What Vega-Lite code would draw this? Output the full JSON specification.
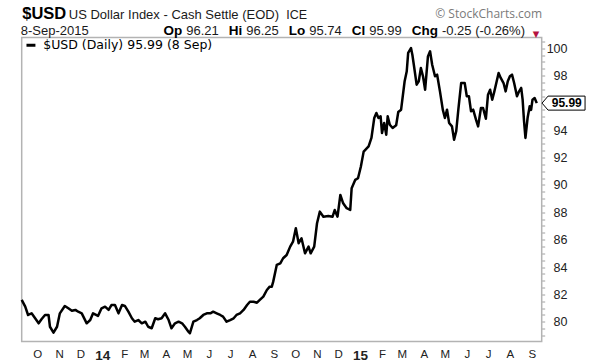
{
  "$schema": "https://vega.github.io/schema/vega-lite/v6.json",
  "width": 520,
  "height": 304,
  "autosize": "none",
  "padding": {"left": 21.7, "top": 37.5, "right": 48.3, "bottom": 22.5},
  "background": "white",
  "config": {
    "view": {"stroke": "#b3b3b3", "strokeWidth": 1.5},
    "axis": {"labelFont": "Liberation Sans", "titleFont": "Liberation Sans", "grid": false, "domain": false, "titleColor": "#1a1a1a", "titleFontWeight": "normal", "titleAngle": 0, "titleAlign": "left", "titleBaseline": "alphabetic"}
  },
  "datasets": {
    "usd": [
      {"d":"2013-09-09","v":81.59},{"d":"2013-09-14","v":81.10},{"d":"2013-09-18","v":80.49},{"d":"2013-09-23","v":80.61},{"d":"2013-09-28","v":80.25},
      {"d":"2013-10-03","v":79.88},{"d":"2013-10-07","v":80.18},{"d":"2013-10-12","v":80.49},{"d":"2013-10-17","v":80.49},{"d":"2013-10-19","v":79.63},{"d":"2013-10-24","v":79.20},{"d":"2013-10-29","v":79.63},
      {"d":"2013-11-02","v":80.61},{"d":"2013-11-09","v":81.15},{"d":"2013-11-14","v":80.98},{"d":"2013-11-19","v":80.80},{"d":"2013-11-24","v":80.86},{"d":"2013-11-28","v":80.73},
      {"d":"2013-12-03","v":80.61},{"d":"2013-12-10","v":79.88},{"d":"2013-12-15","v":80.12},{"d":"2013-12-19","v":80.61},{"d":"2013-12-26","v":80.42},{"d":"2013-12-31","v":80.98},
      {"d":"2014-01-05","v":81.10},{"d":"2014-01-10","v":80.86},{"d":"2014-01-14","v":81.22},{"d":"2014-01-19","v":81.22},{"d":"2014-01-24","v":80.61},{"d":"2014-01-29","v":81.22},
      {"d":"2014-02-02","v":81.15},{"d":"2014-02-07","v":80.73},{"d":"2014-02-12","v":80.25},{"d":"2014-02-16","v":80.00},{"d":"2014-02-21","v":80.12},{"d":"2014-02-26","v":79.88},
      {"d":"2014-03-03","v":80.00},{"d":"2014-03-07","v":79.63},{"d":"2014-03-12","v":79.52},{"d":"2014-03-17","v":80.25},{"d":"2014-03-21","v":80.18},{"d":"2014-03-26","v":80.25},{"d":"2014-03-31","v":80.61},
      {"d":"2014-04-05","v":80.12},{"d":"2014-04-09","v":79.52},{"d":"2014-04-14","v":79.88},{"d":"2014-04-19","v":80.00},{"d":"2014-04-24","v":79.88},{"d":"2014-04-28","v":79.63},
      {"d":"2014-05-03","v":79.27},{"d":"2014-05-05","v":79.15},{"d":"2014-05-10","v":80.00},{"d":"2014-05-15","v":80.12},{"d":"2014-05-19","v":80.25},{"d":"2014-05-24","v":80.49},{"d":"2014-05-29","v":80.61},
      {"d":"2014-06-03","v":80.61},{"d":"2014-06-07","v":80.73},{"d":"2014-06-12","v":80.61},{"d":"2014-06-17","v":80.49},{"d":"2014-06-21","v":80.37},{"d":"2014-06-26","v":80.00},
      {"d":"2014-07-01","v":80.12},{"d":"2014-07-06","v":80.25},{"d":"2014-07-10","v":80.49},{"d":"2014-07-15","v":80.61},{"d":"2014-07-20","v":80.86},{"d":"2014-07-25","v":81.22},{"d":"2014-07-29","v":81.46},
      {"d":"2014-08-03","v":81.46},{"d":"2014-08-08","v":81.39},{"d":"2014-08-12","v":81.59},{"d":"2014-08-17","v":81.83},{"d":"2014-08-22","v":82.32},{"d":"2014-08-26","v":82.56},{"d":"2014-08-29","v":82.56},{"d":"2014-08-31","v":82.93},
      {"d":"2014-09-05","v":84.15},{"d":"2014-09-10","v":84.27},{"d":"2014-09-14","v":84.64},{"d":"2014-09-19","v":84.88},{"d":"2014-09-24","v":85.49},{"d":"2014-09-28","v":85.85},
      {"d":"2014-10-02","v":86.83},{"d":"2014-10-06","v":85.74},{"d":"2014-10-10","v":86.10},{"d":"2014-10-15","v":85.00},{"d":"2014-10-20","v":85.49},{"d":"2014-10-23","v":85.00},{"d":"2014-10-28","v":85.49},
      {"d":"2014-11-01","v":87.20},{"d":"2014-11-05","v":88.05},{"d":"2014-11-10","v":87.68},{"d":"2014-11-17","v":87.73},{"d":"2014-11-23","v":87.68},{"d":"2014-11-26","v":88.17},{"d":"2014-11-30","v":87.68},
      {"d":"2014-12-04","v":89.27},{"d":"2014-12-08","v":88.66},{"d":"2014-12-13","v":88.30},{"d":"2014-12-18","v":88.17},{"d":"2014-12-20","v":89.76},{"d":"2014-12-25","v":90.37},{"d":"2014-12-29","v":90.49},
      {"d":"2015-01-02","v":91.34},{"d":"2015-01-06","v":92.44},{"d":"2015-01-13","v":92.83},{"d":"2015-01-17","v":93.44},{"d":"2015-01-21","v":94.90},{"d":"2015-01-24","v":95.27},{"d":"2015-01-27","v":94.90},{"d":"2015-01-30","v":95.03},
      {"d":"2015-02-01","v":93.80},{"d":"2015-02-04","v":94.54},{"d":"2015-02-07","v":93.68},{"d":"2015-02-09","v":95.03},{"d":"2015-02-12","v":94.41},{"d":"2015-02-16","v":94.17},{"d":"2015-02-21","v":94.37},{"d":"2015-02-24","v":95.34},{"d":"2015-02-28","v":95.51},
      {"d":"2015-03-05","v":97.59},{"d":"2015-03-08","v":98.32},{"d":"2015-03-10","v":99.66},{"d":"2015-03-14","v":100.02},{"d":"2015-03-16","v":99.51},{"d":"2015-03-18","v":98.80},{"d":"2015-03-22","v":97.34},{"d":"2015-03-25","v":97.59},{"d":"2015-03-28","v":98.56},{"d":"2015-03-31","v":97.95},
      {"d":"2015-04-03","v":96.97},{"d":"2015-04-07","v":99.41},{"d":"2015-04-10","v":99.78},{"d":"2015-04-13","v":98.80},{"d":"2015-04-17","v":97.95},{"d":"2015-04-20","v":98.07},{"d":"2015-04-24","v":96.85},{"d":"2015-04-28","v":95.51},
      {"d":"2015-05-01","v":94.90},{"d":"2015-05-04","v":95.51},{"d":"2015-05-07","v":94.54},{"d":"2015-05-11","v":94.29},{"d":"2015-05-14","v":93.31},{"d":"2015-05-17","v":93.93},{"d":"2015-05-20","v":95.51},{"d":"2015-05-24","v":97.46},{"d":"2015-05-29","v":97.46},
      {"d":"2015-06-01","v":96.49},{"d":"2015-06-04","v":96.49},{"d":"2015-06-07","v":95.39},{"d":"2015-06-10","v":95.51},{"d":"2015-06-14","v":94.78},{"d":"2015-06-17","v":94.29},{"d":"2015-06-21","v":95.63},{"d":"2015-06-24","v":95.63},{"d":"2015-06-28","v":94.85},
      {"d":"2015-07-01","v":96.61},{"d":"2015-07-04","v":96.97},{"d":"2015-07-07","v":96.24},{"d":"2015-07-10","v":96.85},{"d":"2015-07-16","v":98.19},{"d":"2015-07-19","v":97.83},{"d":"2015-07-23","v":97.46},{"d":"2015-07-26","v":96.85},{"d":"2015-07-29","v":97.59},
      {"d":"2015-08-01","v":97.95},{"d":"2015-08-04","v":98.07},{"d":"2015-08-07","v":97.46},{"d":"2015-08-11","v":96.49},{"d":"2015-08-14","v":96.85},{"d":"2015-08-17","v":97.10},{"d":"2015-08-19","v":96.24},{"d":"2015-08-21","v":94.66},{"d":"2015-08-23","v":93.44},{"d":"2015-08-26","v":94.90},{"d":"2015-08-29","v":95.76},{"d":"2015-08-31","v":95.49},
      {"d":"2015-09-02","v":96.24},{"d":"2015-09-05","v":96.36},{"d":"2015-09-08","v":95.99}
    ],
    "last": [{"d":"2015-09-08","v":95.99}]
  },
  "data": {"name": "usd"},
  "layer": [
    {
      "mark": {"type": "line", "strokeWidth": 2.5, "strokeJoin": "round"},
      "encoding": {
        "x": {"field": "d", "type": "temporal",
          "scale": {"type": "utc", "domain": [{"year": 2013, "month": 9, "date": 9, "utc": true}, {"year": 2015, "month": 9, "date": 15, "utc": true}]},
          "axis": {"orient": "bottom", "tickCount": {"interval": "month", "step": 1}, "ticks": false, "domain": false, "grid": false, "labelPadding": 7, "labelColor": "#222222", "labelOverlap": false, "labelFlush": false, "labelBound": false,
            "labelExpr": "utcmonth(datum.value) == 0 ? utcFormat(datum.value, '%y') : substring(utcFormat(datum.value, '%b'), 0, 1)",
            "labelFontWeight": {"condition": {"test": "utcmonth(datum.value) == 0", "value": "bold"}, "value": "normal"},
            "labelFontSize": {"condition": {"test": "utcmonth(datum.value) == 0", "value": 13.5}, "value": 11.5},
            "title": "▼", "titleX": 510.5, "titleY": -305, "titleColor": "#b5123f", "titleFont": "DejaVu Sans", "titleFontSize": 8.5, "titleAlign": "left", "titleAngle": 0, "titleBaseline": "alphabetic"}},
        "y": {"field": "v", "type": "quantitative",
          "scale": {"domain": [78.55, 100.79], "zero": false, "nice": false},
          "axis": {"orient": "right", "values": [79,79.5,80,80.5,81,81.5,82,82.5,83,83.5,84,84.5,85,85.5,86,86.5,87,87.5,88,88.5,89,89.5,90,90.5,91,91.5,92,92.5,93,93.5,94,94.5,95,95.5,96,96.5,97,97.5,98,98.5,99,99.5,100,100.5],
            "labelExpr": "datum.value % 2 == 0 && datum.value != 96 ? format(datum.value, 'd') : ''", "labelOverlap": false, "labelAlign": "right", "labelPadding": 22.3, "labelFontSize": 12.5, "labelColor": "#222222",
            "tickSize": 3, "tickColor": "#a0a0a0", "tickWidth": 1, "domain": false, "grid": false,
            "title": "© StockCharts.com", "titleX": 0, "titleY": -20, "titleAlign": "right", "titleAngle": 0, "titleBaseline": "alphabetic", "titleFont": "Open Sans", "titleFontSize": 12, "titleColor": "#7a7a7a"}},
        "color": {"datum": "$USD (Daily) 95.99 (8 Sep)", "scale": {"range": ["#000000"]},
          "legend": {"orient": "none", "legendX": 3, "legendY": 1.5, "title": null, "symbolType": "stroke", "symbolStrokeWidth": 3, "symbolSize": 80, "labelFont": "DejaVu Sans", "labelFontSize": 12.5, "labelLimit": 400, "labelColor": "#000000", "labelOffset": 6, "padding": 0}}
      }
    },
    {
      "data": {"name": "last"},
      "mark": {"type": "point", "opacity": 0},
      "encoding": {
        "x": {"field": "d", "type": "temporal", "scale": {"type": "utc", "domain": [{"year": 2013, "month": 9, "date": 9, "utc": true}, {"year": 2015, "month": 9, "date": 15, "utc": true}]},
          "axis": {"orient": "top", "labels": false, "ticks": false, "domain": false, "grid": false, "title": "$USD", "titleX": 0, "titleY": -19, "titleFontSize": 16.5, "titleFontWeight": "bold", "titleColor": "#000000", "titleAlign": "left", "titleAngle": 0, "titleBaseline": "alphabetic"}},
        "y": {"field": "v", "type": "quantitative", "scale": {"domain": [78.55, 100.79], "zero": false, "nice": false},
          "axis": {"orient": "left", "labels": false, "ticks": false, "domain": false, "grid": false, "title": "US Dollar Index - Cash Settle (EOD)", "titleX": 46.6, "titleY": -19, "titleFontSize": 13, "titleAlign": "left", "titleAngle": 0, "titleBaseline": "alphabetic"}}
      }
    },
    {
      "data": {"name": "last"},
      "mark": {"type": "point", "opacity": 0},
      "encoding": {
        "x": {"field": "d", "type": "temporal", "scale": {"type": "utc", "domain": [{"year": 2013, "month": 9, "date": 9, "utc": true}, {"year": 2015, "month": 9, "date": 15, "utc": true}]},
          "axis": {"orient": "top", "labels": false, "ticks": false, "domain": false, "grid": false, "title": "8-Sep-2015", "titleX": -1.5, "titleY": -2.8, "titleFontSize": 13, "titleAlign": "left", "titleAngle": 0, "titleBaseline": "alphabetic"}},
        "y": {"field": "v", "type": "quantitative", "scale": {"domain": [78.55, 100.79], "zero": false, "nice": false},
          "axis": {"orient": "left", "labels": false, "ticks": false, "domain": false, "grid": false, "title": "ICE", "titleX": 264, "titleY": -19, "titleFontSize": 12.5, "titleAlign": "left", "titleAngle": 0, "titleBaseline": "alphabetic"}}
      }
    },
    {
      "data": {"name": "last"},
      "mark": {"type": "point", "opacity": 0},
      "encoding": {
        "x": {"field": "d", "type": "temporal", "scale": {"type": "utc", "domain": [{"year": 2013, "month": 9, "date": 9, "utc": true}, {"year": 2015, "month": 9, "date": 15, "utc": true}]},
          "axis": {"orient": "top", "labels": false, "ticks": false, "domain": false, "grid": false, "title": "Op", "titleX": 141.3, "titleY": -2.8, "titleFontSize": 13.5, "titleFontWeight": "bold", "titleColor": "#000000", "titleAlign": "left", "titleAngle": 0, "titleBaseline": "alphabetic"}},
        "y": {"field": "v", "type": "quantitative", "scale": {"domain": [78.55, 100.79], "zero": false, "nice": false},
          "axis": {"orient": "left", "labels": false, "ticks": false, "domain": false, "grid": false, "title": "96.21", "titleX": 164, "titleY": -2.8, "titleFontSize": 13, "titleAlign": "left", "titleAngle": 0, "titleBaseline": "alphabetic"}}
      }
    },
    {
      "data": {"name": "last"},
      "mark": {"type": "point", "opacity": 0},
      "encoding": {
        "x": {"field": "d", "type": "temporal", "scale": {"type": "utc", "domain": [{"year": 2013, "month": 9, "date": 9, "utc": true}, {"year": 2015, "month": 9, "date": 15, "utc": true}]},
          "axis": {"orient": "top", "labels": false, "ticks": false, "domain": false, "grid": false, "title": "Hi", "titleX": 206.5, "titleY": -2.8, "titleFontSize": 13.5, "titleFontWeight": "bold", "titleColor": "#000000", "titleAlign": "left", "titleAngle": 0, "titleBaseline": "alphabetic"}},
        "y": {"field": "v", "type": "quantitative", "scale": {"domain": [78.55, 100.79], "zero": false, "nice": false},
          "axis": {"orient": "left", "labels": false, "ticks": false, "domain": false, "grid": false, "title": "96.25", "titleX": 224, "titleY": -2.8, "titleFontSize": 13, "titleAlign": "left", "titleAngle": 0, "titleBaseline": "alphabetic"}}
      }
    },
    {
      "data": {"name": "last"},
      "mark": {"type": "point", "opacity": 0},
      "encoding": {
        "x": {"field": "d", "type": "temporal", "scale": {"type": "utc", "domain": [{"year": 2013, "month": 9, "date": 9, "utc": true}, {"year": 2015, "month": 9, "date": 15, "utc": true}]},
          "axis": {"orient": "top", "labels": false, "ticks": false, "domain": false, "grid": false, "title": "Lo", "titleX": 266.5, "titleY": -2.8, "titleFontSize": 13.5, "titleFontWeight": "bold", "titleColor": "#000000", "titleAlign": "left", "titleAngle": 0, "titleBaseline": "alphabetic"}},
        "y": {"field": "v", "type": "quantitative", "scale": {"domain": [78.55, 100.79], "zero": false, "nice": false},
          "axis": {"orient": "left", "labels": false, "ticks": false, "domain": false, "grid": false, "title": "95.74", "titleX": 287, "titleY": -2.8, "titleFontSize": 13, "titleAlign": "left", "titleAngle": 0, "titleBaseline": "alphabetic"}}
      }
    },
    {
      "data": {"name": "last"},
      "mark": {"type": "point", "opacity": 0},
      "encoding": {
        "x": {"field": "d", "type": "temporal", "scale": {"type": "utc", "domain": [{"year": 2013, "month": 9, "date": 9, "utc": true}, {"year": 2015, "month": 9, "date": 15, "utc": true}]},
          "axis": {"orient": "top", "labels": false, "ticks": false, "domain": false, "grid": false, "title": "Cl", "titleX": 329.5, "titleY": -2.8, "titleFontSize": 13.5, "titleFontWeight": "bold", "titleColor": "#000000", "titleAlign": "left", "titleAngle": 0, "titleBaseline": "alphabetic"}},
        "y": {"field": "v", "type": "quantitative", "scale": {"domain": [78.55, 100.79], "zero": false, "nice": false},
          "axis": {"orient": "left", "labels": false, "ticks": false, "domain": false, "grid": false, "title": "95.99", "titleX": 347, "titleY": -2.8, "titleFontSize": 13, "titleAlign": "left", "titleAngle": 0, "titleBaseline": "alphabetic"}}
      }
    },
    {
      "data": {"name": "last"},
      "mark": {"type": "point", "opacity": 0},
      "encoding": {
        "x": {"field": "d", "type": "temporal", "scale": {"type": "utc", "domain": [{"year": 2013, "month": 9, "date": 9, "utc": true}, {"year": 2015, "month": 9, "date": 15, "utc": true}]},
          "axis": {"orient": "top", "labels": false, "ticks": false, "domain": false, "grid": false, "title": "Chg", "titleX": 389.5, "titleY": -2.8, "titleFontSize": 13.5, "titleFontWeight": "bold", "titleColor": "#000000", "titleAlign": "left", "titleAngle": 0, "titleBaseline": "alphabetic"}},
        "y": {"field": "v", "type": "quantitative", "scale": {"domain": [78.55, 100.79], "zero": false, "nice": false},
          "axis": {"orient": "left", "labels": false, "ticks": false, "domain": false, "grid": false, "title": "-0.25 (-0.26%)", "titleX": 419.7, "titleY": -2.8, "titleFontSize": 13, "titleAlign": "left", "titleAngle": 0, "titleBaseline": "alphabetic"}}
      }
    },
    {
      "data": {"name": "last"},
      "mark": {"type": "point", "shape": "M-1,0L-0.721,-0.326L1,-0.326L1,0.326L-0.721,0.326Z", "size": 1849, "filled": true, "fill": "#ffffff", "stroke": "#000000", "strokeWidth": 1, "opacity": 1, "xOffset": 26.8},
      "encoding": {
        "x": {"field": "d", "type": "temporal", "scale": {"type": "utc", "domain": [{"year": 2013, "month": 9, "date": 9, "utc": true}, {"year": 2015, "month": 9, "date": 15, "utc": true}]}, "axis": null},
        "y": {"field": "v", "type": "quantitative", "scale": {"domain": [78.55, 100.79], "zero": false, "nice": false}, "axis": null}
      }
    },
    {
      "data": {"name": "last"},
      "mark": {"type": "text", "font": "Liberation Sans", "fontSize": 12, "fontWeight": "bold", "align": "center", "baseline": "middle", "xOffset": 30, "color": "#000000"},
      "encoding": {
        "x": {"field": "d", "type": "temporal", "scale": {"type": "utc", "domain": [{"year": 2013, "month": 9, "date": 9, "utc": true}, {"year": 2015, "month": 9, "date": 15, "utc": true}]}, "axis": null},
        "y": {"field": "v", "type": "quantitative", "scale": {"domain": [78.55, 100.79], "zero": false, "nice": false}, "axis": null},
        "text": {"field": "v", "type": "quantitative", "format": ".2f"}
      }
    }
  ],
  "resolve": {"axis": {"x": "independent", "y": "independent"}}
}
